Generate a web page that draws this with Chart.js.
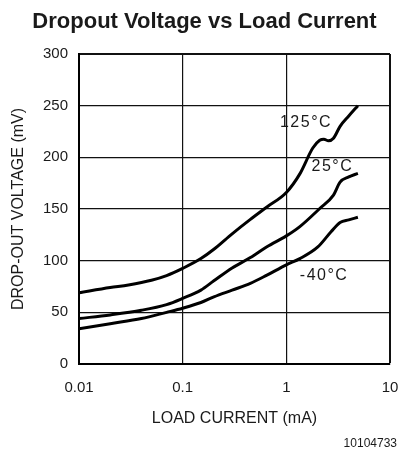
<!DOCTYPE html>
<html><head><meta charset="utf-8">
<script src="https://cdn.jsdelivr.net/npm/chart.js@4"></script>
<style>html,body{margin:0;padding:0;background:#fff}</style>
</head><body>
<canvas id="c" width="401" height="453" style="width:401px;height:453px;display:block"></canvas>
<script>
// ---- data ----
const xTicks = [0.01, 0.1, 1, 10];
const xTickLabels = ['0.01', '0.1', '1', '10'];
const yMin = 0, yMax = 300, yStep = 50;

const current125 = [0.01, 0.02, 0.03, 0.05, 0.07, 0.1, 0.15, 0.2, 0.3, 0.45, 0.65, 1.0, 1.35, 1.8, 2.1, 2.3, 2.55, 2.85, 3.3, 4.0, 4.9];
const drop125    = [69, 74, 76.5, 81, 85.5, 92.5, 102, 111, 126, 140, 152, 166, 184, 209, 216.5, 217.5, 216, 218.5, 230, 240, 250];

const current25 = [0.01, 0.02, 0.04, 0.07, 0.1, 0.15, 0.2, 0.3, 0.45, 0.65, 1.0, 1.35, 2.1, 2.85, 3.3, 4.0, 4.9];
const drop25    = [44, 47.5, 52, 57.5, 63.5, 71.5, 80.5, 93, 103, 113.5, 124, 133, 150.5, 163.5, 176, 181, 184.5];

const currentM40 = [0.01, 0.02, 0.04, 0.07, 0.1, 0.15, 0.2, 0.3, 0.45, 0.65, 1.0, 1.35, 2.0, 2.7, 3.3, 4.0, 4.9];
const dropM40    = [34, 39, 44, 50, 54, 59.5, 65, 71.5, 78, 86, 96, 102, 113, 128, 137, 139.5, 142];

const seriesNames = ['125°C', '25°C', '-40°C'];
// label anchors in data units (x: mA, y: mV), left-middle of text
const labelAnchorX = [0.868, 1.75, 1.35];
const labelAnchorY = [233.7, 190.6, 85.2];

const titleText = 'Dropout Voltage vs Load Current';
const xTitle = 'LOAD CURRENT (mA)';
const yTitle = 'DROP-OUT VOLTAGE (mV)';
const figId = '10104733';

const toPts = (xs, ys) => xs.map((x, i) => ({x, y: ys[i]}));
const FONT = "'Liberation Sans', Arial, sans-serif";
const INK = '#1a1a1a';

const labelsPlugin = {
  id: 'curveLabels',
  afterDraw(chart) {
    const {ctx, scales: {x, y}} = chart;
    ctx.save();
    ctx.fillStyle = INK;
    ctx.font = "16px " + FONT;
    ctx.textBaseline = 'middle';
    ctx.textAlign = 'left';
    try { ctx.letterSpacing = '1.5px'; } catch (e) {}
    seriesNames.forEach((t, i) => {
      ctx.fillText(t, x.getPixelForValue(labelAnchorX[i]), y.getPixelForValue(labelAnchorY[i]));
    });
    try { ctx.letterSpacing = '0px'; } catch (e) {}
    ctx.font = "12px " + FONT;
    ctx.textAlign = 'right';
    ctx.fillText(figId, chart.width - 4, chart.height - 9);
    ctx.restore();
  }
};

new Chart(document.getElementById('c'), {
  type: 'scatter',
  data: {
    datasets: [
      {label: seriesNames[0], data: toPts(current125, drop125)},
      {label: seriesNames[1], data: toPts(current25, drop25)},
      {label: seriesNames[2], data: toPts(currentM40, dropM40)}
    ].map(d => Object.assign(d, {
      showLine: true, borderColor: '#000', borderWidth: 3, pointRadius: 0,
      cubicInterpolationMode: 'monotone', fill: false
    }))
  },
  options: {
    responsive: false,
    devicePixelRatio: 1,
    animation: false,
    layout: {padding: {left: 8, right: 0, top: 0, bottom: 0}},
    plugins: {
      legend: {display: false},
      tooltip: {enabled: false},
      title: {
        display: true, text: titleText, color: INK,
        font: {family: FONT, size: 22, weight: 'bold'},
        padding: {top: 8.8, bottom: 18.8}
      }
    },
    scales: {
      x: {
        type: 'logarithmic', min: xTicks[0], max: xTicks[xTicks.length - 1],
        afterBuildTicks: s => { s.ticks = xTicks.map(v => ({value: v})); },
        afterFit: s => { s.height = 89; s.paddingLeft = 0; s.paddingRight = 0; },
        ticks: {
          autoSkip: false, maxRotation: 0, padding: 14.5, color: INK,
          font: {family: FONT, size: 15},
          callback: (v, i) => xTickLabels[i]
        },
        grid: {
          color: '#111', drawTicks: false,
          lineWidth: c => (c.tick && c.tick.value === xTicks[xTicks.length - 1]) ? 2 : 1.2
        },
        border: {display: true, color: '#000', width: 2},
        title: {display: true, text: xTitle, color: INK, font: {family: FONT, size: 16}, padding: {top: 0, bottom: 24.4}}
      },
      y: {
        min: yMin, max: yMax,
        afterFit: s => { s.width = 71; s.paddingTop = 0; s.paddingBottom = 0; },
        ticks: {stepSize: yStep, padding: 11, color: INK, font: {family: FONT, size: 15}},
        grid: {
          color: '#111', drawTicks: false,
          lineWidth: c => (c.tick && c.tick.value === yMax) ? 2 : 1.2
        },
        border: {display: true, color: '#000', width: 2},
        title: {display: true, text: yTitle, color: INK, font: {family: FONT, size: 16}, padding: {top: 1.2, bottom: 0}}
      },
      yRight: {
        position: 'right', min: yMin, max: yMax,
        afterFit: s => { s.width = 11; s.paddingTop = 0; s.paddingBottom = 0; },
        ticks: {display: false},
        grid: {display: false, drawTicks: false},
        border: {display: false}
      }
    }
  },
  plugins: [labelsPlugin]
});
</script>
</body></html>
